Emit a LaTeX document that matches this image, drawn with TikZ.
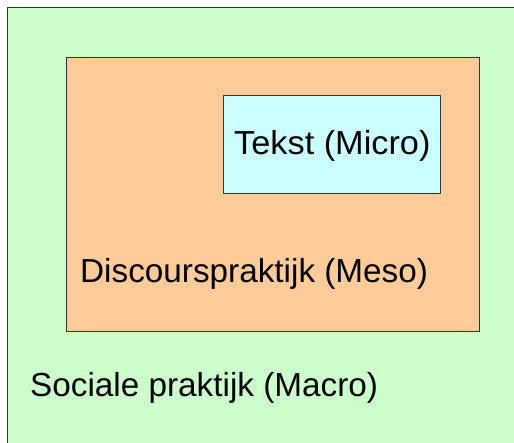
\documentclass[tikz,border=0pt]{standalone}
\usepackage{fontspec}
\setmainfont{Liberation Sans}
\definecolor{macrogreen}{HTML}{CCFFCC}
\definecolor{mesoorange}{HTML}{FFCC99}
\definecolor{microcyan}{HTML}{CCFFFF}
\definecolor{edge}{HTML}{333333}
\tikzset{
  levelbox/.style={draw=edge, line width=1.2pt, inner sep=0pt, anchor=north west},
  levellabel/.style={inner sep=0pt, anchor=base west, font=\fontsize{33.3}{40}\selectfont},
}
\begin{document}
\begin{tikzpicture}[x=1pt, y=-1pt]
  \useasboundingbox (0,0) rectangle (514,443);
  \fill[white] (0,0) rectangle (514,443);
  % nested levels: macro, meso, micro
  \node[levelbox, fill=macrogreen, minimum width=530pt, minimum height=460pt] (macro) at (7,7) {};
  \node[levelbox, fill=mesoorange, minimum width=413pt, minimum height=274pt] (meso) at (66,57) {};
  \node[levelbox, fill=microcyan, minimum width=217pt, minimum height=98pt] (micro) at (223,95) {};
  % labels
  \node[levellabel, xscale=1.03] (microlabel) at (234,155) {Tekst (Micro)};
  \node[levellabel] (mesolabel) at (80,283) {Discourspraktijk (Meso)};
  \node[levellabel] (macrolabel) at (30,397) {Sociale praktijk (Macro)};
\end{tikzpicture}
\end{document}
